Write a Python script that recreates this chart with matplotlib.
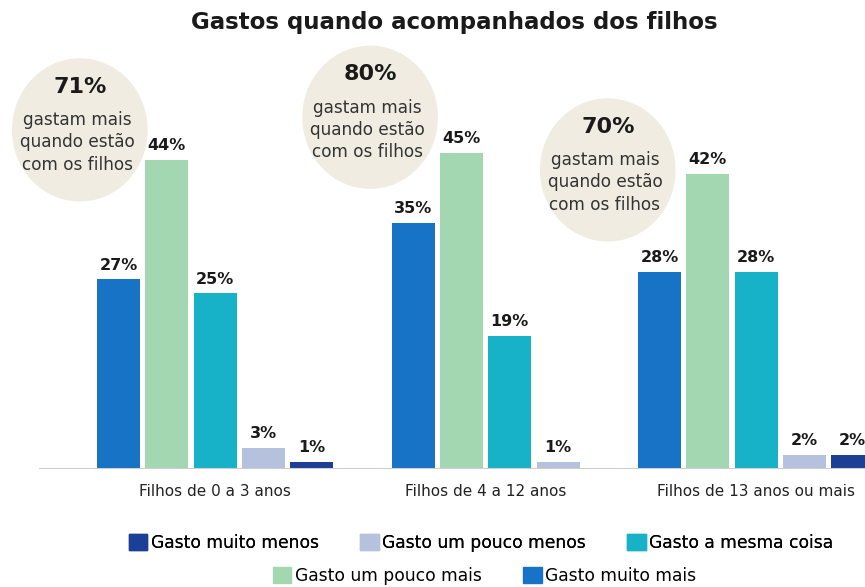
import matplotlib
matplotlib.use("Agg")
import matplotlib.pyplot as plt
from matplotlib.patches import Ellipse, Patch

# data
groups = ["Filhos de 0 a 3 anos", "Filhos de 4 a 12 anos", "Filhos de 13 anos ou mais"]
series = ["Gasto muito mais", "Gasto um pouco mais", "Gasto a mesma coisa",
          "Gasto um pouco menos", "Gasto muito menos"]
muito_mais = [27, 35, 28]
pouco_mais = [44, 45, 42]
mesma_coisa = [25, 19, 28]
pouco_menos = [3, 1, 2]
muito_menos = [1, 0, 2]
gastam_mais = ["71%", "80%", "70%"]

colors = ["#1673c6", "#a3d7b2", "#17b2c8", "#b5c1dd", "#1b3f94"]
values = [muito_mais, pouco_mais, mesma_coisa, pouco_menos, muito_menos]

fig = plt.figure(figsize=(8.65, 5.87), dpi=100)
ax = fig.add_axes([0, 0.201, 1, 0.7308])

# bars laid out one after another, skipping empty ones, with a gap between groups
start = 0.0
centers = []
for g in range(len(groups)):
    pos = start
    xs = []
    for s in range(len(series)):
        v = values[s][g]
        if v <= 0:
            continue
        ax.bar(pos, v, width=0.89, color=colors[s])
        ax.annotate(f"{v}%", (pos, v), xytext=(0, 5), textcoords="offset points",
                    ha="center", va="bottom", fontsize=11.5, fontweight="bold", color="#1a1a1a")
        xs.append(pos)
        pos += 1
    centers.append((xs[0] + xs[-1]) / 2)
    start = pos + 1.1

ax.set_xlim(-2.453, 15.456)
ax.set_ylim(0, 61.1)
ax.axhline(0, xmin=0.046, xmax=1, color="#cfcfcf", lw=1.5)

ax.set_xticks(centers)
ax.set_xticklabels(groups, fontsize=11, color="#222222")
ax.tick_params(axis="x", length=0, pad=11)
ax.set_yticks([])
for sp in ax.spines.values():
    sp.set_visible(False)

# beige notes
note_xy = [(-0.80, 48.3), (5.21, 50.1), (10.13, 42.6)]
for (nx, ny), pct in zip(note_xy, gastam_mais):
    ax.add_patch(Ellipse((nx, ny), 2.78, 20.2, color="#f1ece2", zorder=0))
    ax.annotate(pct, (nx, ny), xytext=(0, 31), textcoords="offset points",
                ha="center", va="center", fontsize=16, fontweight="bold", color="#1a1a1a")
    ax.annotate("gastam mais\nquando estão\ncom os filhos", (nx, ny), xytext=(-2, -9),
                textcoords="offset points", ha="center", va="center",
                fontsize=12.2, color="#333333", linespacing=1.3)

fig.text(0.525, 0.962, "Gastos quando acompanhados dos filhos", ha="center", va="center",
         fontsize=16.5, fontweight="bold", color="#1a1a1a")

# legend in two rows
order1 = [4, 3, 2]
order2 = [1, 0]
h1 = [Patch(color=colors[i]) for i in order1]
h2 = [Patch(color=colors[i]) for i in order2]
leg1 = fig.legend(h1, [series[i] for i in order1], loc="center", bbox_to_anchor=(0.556, 0.075),
                  ncol=3, frameon=False, fontsize=12.3, handlelength=1.1, handleheight=1.1,
                  handletextpad=0.2, columnspacing=2.4)
fig.add_artist(leg1)
fig.legend(h2, [series[i] for i in order2], loc="center", bbox_to_anchor=(0.56, 0.019),
           ncol=2, frameon=False, fontsize=12.3, handlelength=1.1, handleheight=1.1,
           handletextpad=0.2, columnspacing=2.4)

fig.savefig("out.png", dpi=100)
